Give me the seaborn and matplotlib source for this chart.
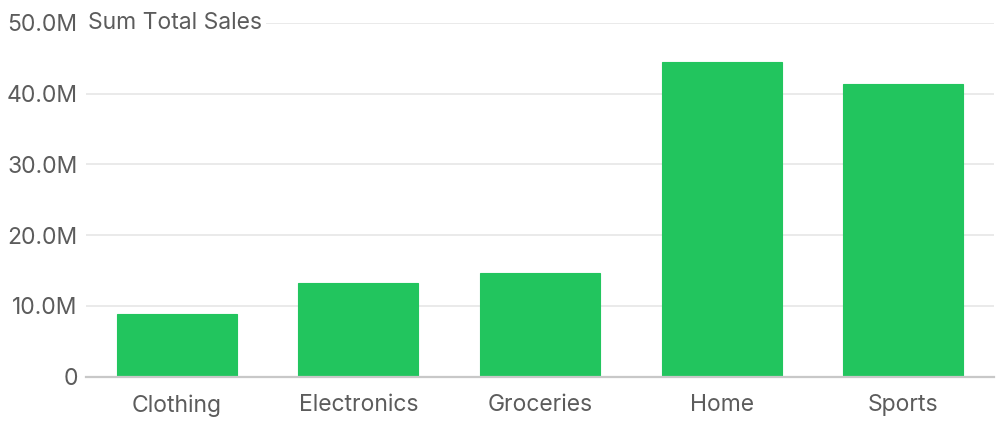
import matplotlib
matplotlib.use("Agg")
import matplotlib.pyplot as plt
import seaborn as sns
import pandas as pd

categories = ["Clothing", "Electronics", "Groceries", "Home", "Sports"]
total_sales = [8.85e6, 13.2e6, 14.6e6, 44.4e6, 41.4e6]
y_ticks = [0, 10e6, 20e6, 30e6, 40e6, 50e6]
y_tick_labels = ["0", "10.0M", "20.0M", "30.0M", "40.0M", "50.0M"]
y_title = "Sum Total Sales"

df = pd.DataFrame({"category": categories, "sales": total_sales})

sns.set_theme(style="white")
plt.rcParams["font.family"] = ["Inter", "DejaVu Sans"]

fig = plt.figure(figsize=(10, 4.3), dpi=100)
ax = fig.add_axes([0.086, 0.124, 0.908, 0.823])

sns.barplot(data=df, x="category", y="sales", color="#22c55e", saturation=1,
            width=0.66, ax=ax, edgecolor="#22c55e", linewidth=0.8, zorder=3)

ax.set_ylim(0, 50e6)
ax.set_xlim(-0.5, len(categories) - 0.5)
ax.set_yticks(y_ticks)
ax.set_yticklabels(y_tick_labels)
ax.yaxis.grid(True, color="#e6e6e6", linewidth=1.2, zorder=0)
ax.set_axisbelow(True)
for s in ["top", "right", "left"]:
    ax.spines[s].set_visible(False)
ax.spines["bottom"].set_color("#c8c8c8")
ax.spines["bottom"].set_linewidth(1.6)
ax.spines["bottom"].set_zorder(4)
ax.tick_params(axis="both", length=0, labelsize=16.5, colors="#5c5c5c")
ax.tick_params(axis="y", pad=6)
ax.tick_params(axis="x", pad=12.5)
ax.set_xlabel("")
ax.set_ylabel("")

ax.text(0.002, 50e6, y_title, transform=ax.get_yaxis_transform(),
        ha="left", va="center", fontsize=16.5, color="#5c5c5c",
        bbox=dict(facecolor="white", edgecolor="none", pad=3), zorder=5)

fig.savefig("out.png", dpi=100)
